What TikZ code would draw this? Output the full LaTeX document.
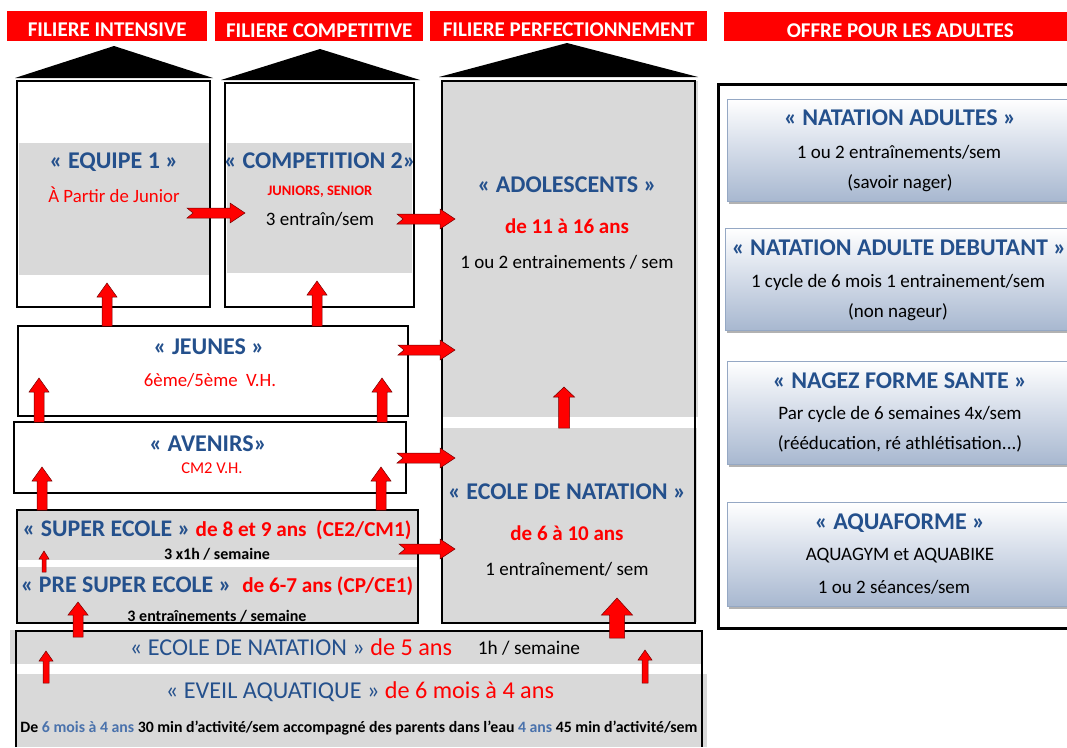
\documentclass[tikz,border=0pt]{standalone}
\usepackage{fontspec}
\setmainfont{Carlito}
\usepackage[HTML]{xcolor}
\usetikzlibrary{positioning, shadows}

\definecolor{titleblue}{HTML}{24508C}
\definecolor{barred}{HTML}{FF0000}
\definecolor{bandgray}{HTML}{D9D9D9}
\definecolor{adultlo}{HTML}{A8B8D0}
\definecolor{adultline}{HTML}{95A8C4}
\definecolor{softblue}{HTML}{4A72AC}

\tikzset{
  header/.style={fill=barred, text=white, font=\bfseries\fontsize{21}{21}\selectfont, inner sep=0pt,
    text height=21pt, text depth=0pt, anchor=north west},
  roof/.style={fill=black},
  boxline/.style={draw=black, line width=2.2pt},
  band/.style={fill=bandgray, draw=none},
  title/.style={text=titleblue, font=\bfseries\fontsize{24}{26}\selectfont},
  lowtitle/.style={text=titleblue, font=\fontsize{24.2}{26}\selectfont},
  age/.style={text=red, font=\bfseries\fontsize{21}{23}\selectfont},
  redinfo/.style={text=red, font=\fontsize{18.8}{20}\selectfont},
  info/.style={text=black, font=\fontsize{19}{21}\selectfont},
  small/.style={text=black, font=\bfseries\fontsize{16}{18}\selectfont},
  adultfill/.style={top color=white, bottom color=adultlo},
  adultedge/.style={draw=adultline, line width=0.8pt},
  adultshade/.style={fill=black!30},
  redarrow/.style={fill=red, draw=red!45!black, line width=0.5pt}
}
\newcommand{\bigred}{\color{red}\fontsize{21.2}{23}\selectfont}
\newcommand{\bigblue}{\fontsize{23.8}{26}\selectfont}

% notched block arrow: x tail, x tip, y
\newcommand{\redright}[3]{%
  \path[redarrow] (#1,#3-5) -- (#2-15,#3-5) -- (#2-15,#3-10) -- (#2,#3) -- (#2-15,#3+10)
    -- (#2-15,#3+5) -- (#1,#3+5) -- (#1+6,#3) -- cycle;}
% up block arrow: x, y tip, y bottom, half head, half shaft, head length
\newcommand{\redup}[6]{%
  \path[redarrow] (#1-#5,#3) -- (#1-#5,#2+#6) -- (#1-#4,#2+#6) -- (#1,#2) -- (#1+#4,#2+#6)
    -- (#1+#5,#2+#6) -- (#1+#5,#3) -- cycle;}
% adult offer box cut by the right border: x left, y top, y bottom
\newcommand{\adultbox}[3]{%
  \fill[adultshade] (#1+2,#2+2) rectangle (1067,#3+2.5);
  \shade[adultfill] (#1,#2) rectangle (1067,#3);
  \draw[adultedge] (1067,#2) -- (#1,#2) -- (#1,#3) -- (1067,#3);}

\begin{document}
\begin{tikzpicture}[x=1pt, y=-1pt]
\useasboundingbox (0,0) rectangle (1067,747);

% headers and roofs
\node[header, minimum width=200pt, minimum height=30pt] (hint) at (7,11) {FILIERE INTENSIVE};
\node[header, minimum width=208pt, minimum height=29pt] (hcomp) at (215,12) {FILIERE COMPETITIVE};
\node[header, minimum width=277pt, minimum height=30pt] (hperf) at (430,11) {FILIERE PERFECTIONNEMENT};
\node[header, minimum width=343pt, minimum height=29pt] (hadult) at (724,12) {\hspace*{9pt}OFFRE POUR LES ADULTES};
\fill[roof] (15,78) -- (114,46) -- (213,78) -- cycle;
\fill[roof] (221,80) -- (320,49) -- (420,80) -- cycle;
\fill[roof] (439,77) -- (567,43) -- (698,77) -- cycle;

% grey bands
\fill[band] (19,143) rectangle (209,275);
\fill[band] (227,143) rectangle (412,273);
\fill[band] (442,81) rectangle (698,417);
\fill[band] (442,428) rectangle (697,622);
\fill[band] (17,510) rectangle (418,560);
\fill[band] (17,567) rectangle (418,623);
\fill[band] (10,630) rectangle (702,664);
\fill[band] (16,674) rectangle (707,747);

% boxes
\draw[boxline] (17,81) rectangle (210,307);
\draw[boxline] (225,83) rectangle (414,307);
\draw[boxline] (442,81) rectangle (695,623);
\draw[boxline] (18,326) rectangle (408,416);
\draw[boxline] (14,422) rectangle (406,493);
\draw[boxline] (17,510) rectangle (418,623);
\draw[boxline] (16,747) -- (16,631) -- (702,631) -- (702,747);
\draw[boxline, line width=3pt] (1067,84) -- (718,84) -- (718,628) -- (1067,628);

% adult offers
\adultbox{727}{99}{201}
\adultbox{725}{228}{330}
\adultbox{727}{361}{464}
\adultbox{727}{502}{606}

% arrows
\redright{187}{245}{213}
\redright{397}{455}{219}
\redright{398}{455}{350}
\redright{397}{455}{458}
\redright{399}{455}{549}
\redup{107}{283}{326}{10}{5}{14}
\redup{317}{281}{326}{10}{5}{14}
\redup{39}{378}{422}{10}{5}{14}
\redup{382}{378}{422}{10}{5}{14}
\redup{42}{467}{510}{10}{5}{14}
\redup{381}{467}{510}{10}{5}{14}
\redup{44}{551}{572}{5}{2}{8}
\redup{78}{602}{637}{10}{5}{13}
\redup{46}{651}{683}{7}{3}{10}
\redup{645}{650}{683}{7}{3}{10}
\redup{564}{387}{428}{10.5}{5.5}{10}
\redup{617}{598}{638}{15.5}{7.5}{17}

% texts, filieres
\node[title] (equipe) at (114,162) {« EQUIPE 1 »};
\node[redinfo] (equipeage) at (114,195) {À Partir de Junior};
\node[title] (compet) at (320,161) {« COMPETITION 2»};
\node[text=red, font=\bfseries\fontsize{14.5}{16}\selectfont] (competage) at (320,192) {JUNIORS, SENIOR};
\node[info] (competrate) at (320,219) {3 entraîn/sem};
\node[title] (ados) at (567,185) {« ADOLESCENTS »};
\node[age] (adosage) at (567,226) {de 11 à 16 ans};
\node[info] (adosrate) at (567,262) {1 ou 2 entrainements / sem};
\node[title] (ecole) at (567,492) {« ECOLE DE NATATION »};
\node[age] (ecoleage) at (567,533) {de 6 à 10 ans};
\node[info] (ecolerate) at (567,569) {1 entraînement/ sem};
\node[title] (jeunes) at (209,347) {« JEUNES »};
\node[redinfo] (jeunesage) at (210,380) {6ème/5ème~~V.H.};
\node[title] (avenirs) at (208,444) {« AVENIRS»};
\node[text=red, font=\fontsize{16.5}{18}\selectfont] (avenirsage) at (212,468) {CM2 V.H.};
\node[title] (superecole) at (217,530) {\bigblue« SUPER ECOLE » {\bigred de 8 et 9 ans~~(CE2/CM1)}};
\node[small] (superrate) at (217,554) {3 x1h / semaine};
\node[title] (presuper) at (217,586) {\bigblue« PRE SUPER ECOLE »~~{\bigred de 6-7 ans (CP/CE1)}};
\node[small] (presuperrate) at (217,616) {3 entraînements / semaine};
\node[lowtitle] (ecole5) at (291,647) {« ECOLE DE NATATION » {\color{red}de 5 ans}};
\node[info, font=\fontsize{19.3}{21}\selectfont] (ecole5rate) at (529,648) {1h / semaine};
\node[lowtitle] (eveil) at (360,692) {« EVEIL AQUATIQUE » {\color{red}de 6 mois à 4 ans}};
\node[small, font=\bfseries\fontsize{15.8}{18}\selectfont] (eveilrate) at (359,728) {De {\color{softblue}6 mois à 4 ans} 30 min d’activité/sem accompagné des parents dans l’eau {\color{softblue}4 ans} 45 min d’activité/sem};

% texts, adultes
\node[title] (natad) at (900,118) {« NATATION ADULTES »};
\node[info] (natadrate) at (899,152) {1 ou 2 entraînements/sem};
\node[info] (natadnote) at (900,183) {(savoir nager)};
\node[title] (natdeb) at (899,248) {« NATATION ADULTE DEBUTANT »};
\node[info] (natdebrate) at (898,282) {1 cycle de 6 mois 1 entrainement/sem};
\node[info] (natdebnote) at (898,312) {(non nageur)};
\node[title] (nagez) at (900,381) {« NAGEZ FORME SANTE »};
\node[info] (nagezrate) at (900,414) {Par cycle de 6 semaines 4x/sem};
\node[info] (nageznote) at (900,444) {(rééducation, ré athlétisation...)};
\node[title] (aqua) at (900,523) {« AQUAFORME »};
\node[info] (aquarate) at (900,556) {AQUAGYM et AQUABIKE};
\node[info] (aquanote) at (894,587) {1 ou 2 séances/sem};
\end{tikzpicture}
\end{document}
